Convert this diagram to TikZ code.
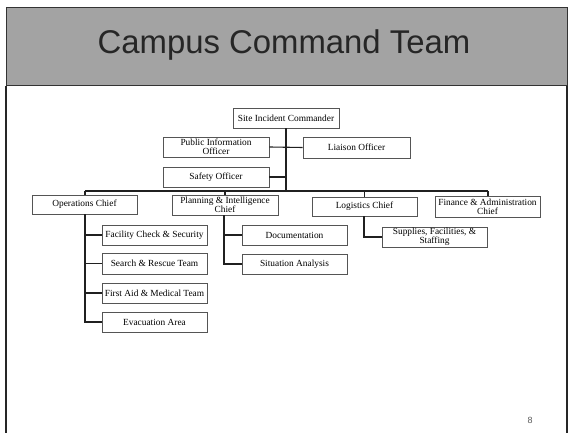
\documentclass[tikz,border=0pt]{standalone}
\usepackage{fontspec}
\setmainfont{Liberation Serif}
\newfontfamily\titlefont{Liberation Sans}
\definecolor{bandgray}{HTML}{A3A3A3}
\definecolor{boxline}{HTML}{555555}
\definecolor{conn}{HTML}{202020}
\begin{document}
\begin{tikzpicture}[x=1bp,y=-1bp,
  orgbox/.style={draw=boxline, line width=0.6bp, fill=white, rectangle, inner sep=0.3bp,
    minimum width=#1, minimum height=20bp, align=center, font=\fontsize{9.4}{9}\selectfont, anchor=center},
  orgbox/.default=105bp,
  link/.style={draw=conn, line width=1.1bp}]
\useasboundingbox (0,0) rectangle (572,433);
% slide frame
\path[fill=bandgray, draw=black!80, line width=1bp] (6,8) rectangle (567,86);
\draw[black!85, line width=1.2bp] (6,86) -- (6,433);
\draw[black!85, line width=1.2bp] (567,86) -- (567,433);
\node[font=\titlefont\fontsize{33}{33}\selectfont, text=black!85] (title) at (284,45) {Campus Command Team};
\node[font=\titlefont\fontsize{9}{9}\selectfont, text=black!65] (pnum) at (530,420) {8};

% boxes
\node[orgbox=106bp] (sic) at (286,118) {Site Incident Commander};
\node[orgbox=106bp] (pio) at (216,147) {Public Information\\Officer};
\node[orgbox=107bp, minimum height=21bp] (lia) at (356.5,147.5) {Liaison Officer};
\node[orgbox=106bp] (saf) at (216,177) {Safety Officer};
\node[orgbox=105bp, minimum height=19bp] (ops) at (84.5,204.5) {Operations Chief};
\node[orgbox=106bp] (plan) at (225,205) {Planning \& Intelligence\\Chief};
\node[orgbox=105bp, minimum height=19bp] (log) at (364.5,206.5) {Logistics Chief};
\node[orgbox=105bp, minimum height=21bp] (fin) at (487.5,206.5) {Finance \& Administration\\Chief};
\node[orgbox] (fac) at (154.5,235) {Facility Check \& Security};
\node[orgbox, minimum height=21bp] (sr) at (154.5,263.5) {Search \& Rescue Team};
\node[orgbox] (fa) at (154.5,293) {First Aid \& Medical Team};
\node[orgbox] (eva) at (154.5,322) {Evacuation Area};
\node[orgbox] (doc) at (294.5,235) {Documentation};
\node[orgbox] (sit) at (294.5,264) {Situation Analysis};
\node[orgbox] (sup) at (434.5,237) {Supplies, Facilities, \&\\Staffing};

% connector points
\coordinate (busL) at (85,191);
\coordinate (busR) at (488,191);
\coordinate (cmdBus) at (286,191);
\coordinate (safJ) at (286,177);
\coordinate (opsEnd) at (85,322);
\coordinate (planEnd) at (224,264);
\coordinate (logEnd) at (364,237);

% connectors
\draw[link] (sic.south) -- (cmdBus);
\draw[link] (pio.east) -- (lia.west);
\draw[link] (saf.east) -- (safJ);
\draw[link] (busL) -- (busR);
\draw[link] (busL) -- (busL |- ops.north);
\draw[link] (cmdBus -| plan.north) -- (plan.north);
\draw[link] (cmdBus -| log.north) -- (log.north);
\draw[link] (busR) -- (busR |- fin.north);
\draw[link] (opsEnd |- ops.south) -- (opsEnd) -- (eva.west);
\draw[link] (opsEnd |- fac.west) -- (fac.west);
\draw[link] (opsEnd |- sr.west) -- (sr.west);
\draw[link] (opsEnd |- fa.west) -- (fa.west);
\draw[link] (planEnd |- plan.south) -- (planEnd) -- (sit.west);
\draw[link] (planEnd |- doc.west) -- (doc.west);
\draw[link] (logEnd |- log.south) -- (logEnd) -- (sup.west);
\end{tikzpicture}
\end{document}
